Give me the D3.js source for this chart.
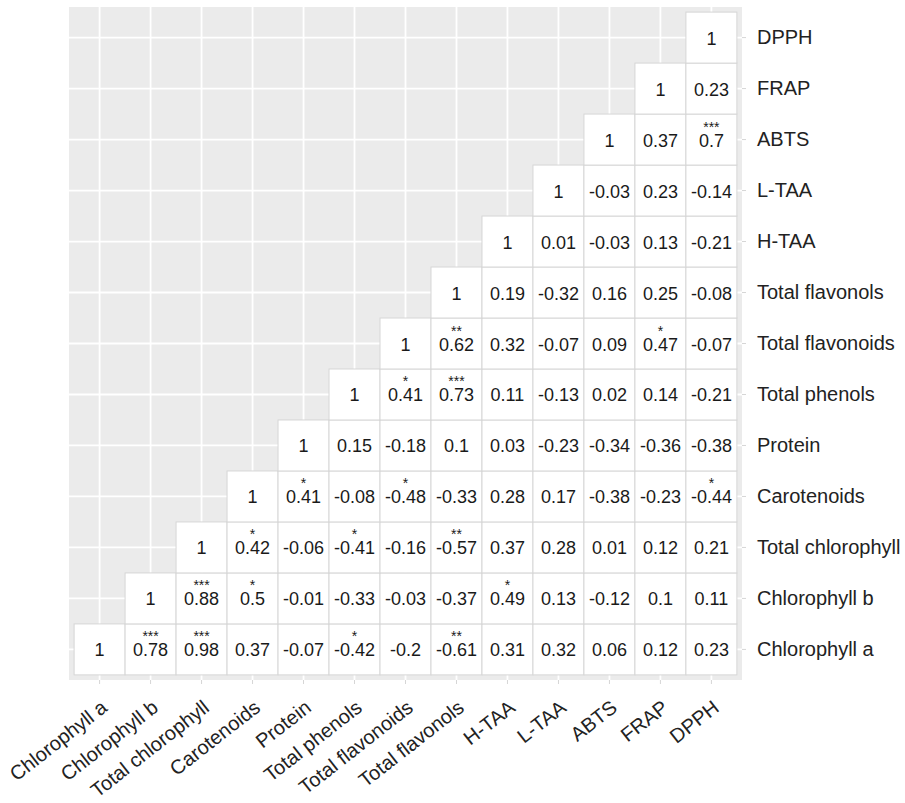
<!DOCTYPE html>
<html>
<head>
<meta charset="utf-8"/>
<title>Correlation matrix</title>
<style>
body {margin: 0; background: #fff;}
text {font-family: "Liberation Sans", Arial, sans-serif;}
</style>
<script src="https://d3js.org/d3.v7.min.js"></script>
</head>
<body>
<div id="chart"></div>
<script>
// variables, bottom-to-top on y and left-to-right on x
var variables = ["Chlorophyll a", "Chlorophyll b", "Total chlorophyll", "Carotenoids",
  "Protein", "Total phenols", "Total flavonoids", "Total flavonols",
  "H-TAA", "L-TAA", "ABTS", "FRAP", "DPPH"];

// each row starts at its own column (diagonal = 1) and goes right
var rowChlA     = [1, 0.78, 0.98, 0.37, -0.07, -0.42, -0.2, -0.61, 0.31, 0.32, 0.06, 0.12, 0.23];
var rowChlB     = [1, 0.88, 0.5, -0.01, -0.33, -0.03, -0.37, 0.49, 0.13, -0.12, 0.1, 0.11];
var rowTotChl   = [1, 0.42, -0.06, -0.41, -0.16, -0.57, 0.37, 0.28, 0.01, 0.12, 0.21];
var rowCarot    = [1, 0.41, -0.08, -0.48, -0.33, 0.28, 0.17, -0.38, -0.23, -0.44];
var rowProtein  = [1, 0.15, -0.18, 0.1, 0.03, -0.23, -0.34, -0.36, -0.38];
var rowPhenols  = [1, 0.41, 0.73, 0.11, -0.13, 0.02, 0.14, -0.21];
var rowFlavoid  = [1, 0.62, 0.32, -0.07, 0.09, 0.47, -0.07];
var rowFlavol   = [1, 0.19, -0.32, 0.16, 0.25, -0.08];
var rowHTAA     = [1, 0.01, -0.03, 0.13, -0.21];
var rowLTAA     = [1, -0.03, 0.23, -0.14];
var rowABTS     = [1, 0.37, 0.7];
var rowFRAP     = [1, 0.23];
var rowDPPH     = [1];

// significant pairs: [row variable, column variable, stars]
var sigCells = [
  ["Chlorophyll a", "Chlorophyll b", "***"],
  ["Chlorophyll a", "Total chlorophyll", "***"],
  ["Chlorophyll a", "Total phenols", "*"],
  ["Chlorophyll a", "Total flavonols", "**"],
  ["Chlorophyll b", "Total chlorophyll", "***"],
  ["Chlorophyll b", "Carotenoids", "*"],
  ["Chlorophyll b", "H-TAA", "*"],
  ["Total chlorophyll", "Carotenoids", "*"],
  ["Total chlorophyll", "Total phenols", "*"],
  ["Total chlorophyll", "Total flavonols", "**"],
  ["Carotenoids", "Protein", "*"],
  ["Carotenoids", "Total flavonoids", "*"],
  ["Carotenoids", "DPPH", "*"],
  ["Total phenols", "Total flavonoids", "*"],
  ["Total phenols", "Total flavonols", "***"],
  ["Total flavonoids", "Total flavonols", "**"],
  ["Total flavonoids", "FRAP", "*"],
  ["ABTS", "DPPH", "***"]
];

var rows = [rowChlA, rowChlB, rowTotChl, rowCarot, rowProtein, rowPhenols,
  rowFlavoid, rowFlavol, rowHTAA, rowLTAA, rowABTS, rowFRAP, rowDPPH];

// flatten into cells
var cells = [];
rows.forEach(function(r, i) {
  r.forEach(function(v, k) {
    cells.push({row: variables[i], col: variables[i + k], value: v});
  });
});
var sigMap = {};
sigCells.forEach(function(s) { sigMap[s[0] + "|" + s[1]] = s[2]; });

var width = 905, height = 803;
var panel = {left: 69, right: 742, top: 7, bottom: 680};

var svg = d3.select("#chart").append("svg")
  .attr("width", width)
  .attr("height", height);

var x = d3.scaleBand()
  .domain(variables)
  .range([panel.left, panel.right])
  .paddingInner(0)
  .paddingOuter(0.1);

var y = d3.scaleBand()
  .domain(variables)
  .range([panel.bottom, panel.top])
  .paddingInner(0)
  .paddingOuter(0.1);

var bw = x.bandwidth();

// grey panel
svg.append("rect")
  .attr("x", panel.left).attr("y", panel.top)
  .attr("width", panel.right - panel.left)
  .attr("height", panel.bottom - panel.top)
  .attr("fill", "#ebebeb");

// white grid lines at category centres
svg.append("g").selectAll("line")
  .data(variables).enter().append("line")
  .attr("x1", function(d) { return x(d) + bw / 2; })
  .attr("x2", function(d) { return x(d) + bw / 2; })
  .attr("y1", panel.top).attr("y2", panel.bottom)
  .attr("stroke", "#fff").attr("stroke-width", 1.8);

svg.append("g").selectAll("line")
  .data(variables).enter().append("line")
  .attr("y1", function(d) { return y(d) + bw / 2; })
  .attr("y2", function(d) { return y(d) + bw / 2; })
  .attr("x1", panel.left).attr("x2", panel.right)
  .attr("stroke", "#fff").attr("stroke-width", 1.8);

// tiles
var g = svg.append("g");
g.selectAll("rect.tile")
  .data(cells).enter().append("rect")
  .attr("class", "tile")
  .attr("x", function(d) { return x(d.col); })
  .attr("y", function(d) { return y(d.row); })
  .attr("width", bw).attr("height", bw)
  .attr("fill", "#fff")
  .attr("stroke", "#d6d6d6")
  .attr("stroke-width", 1);

g.selectAll("text.val")
  .data(cells).enter().append("text")
  .attr("class", "val")
  .attr("x", function(d) { return x(d.col) + bw / 2; })
  .attr("y", function(d) { return y(d.row) + bw / 2 + 7; })
  .attr("text-anchor", "middle")
  .attr("font-size", "18px")
  .attr("fill", "#1a1a1a")
  .text(function(d) { return d.value; });

// significance stars sit just above the number
g.selectAll("text.sig")
  .data(cells.filter(function(d) { return sigMap[d.row + "|" + d.col]; }))
  .enter().append("text")
  .attr("class", "sig")
  .attr("x", function(d) { return x(d.col) + bw / 2; })
  .attr("y", function(d) { return y(d.row) + bw / 2 - 8; })
  .attr("text-anchor", "middle")
  .attr("font-size", "14px")
  .attr("fill", "#1a1a1a")
  .text(function(d) { return sigMap[d.row + "|" + d.col]; });

// axes
var yAxis = svg.append("g")
  .attr("transform", "translate(" + panel.right + ",0)")
  .call(d3.axisRight(y).tickSize(4).tickPadding(11).tickSizeOuter(0));
yAxis.select(".domain").remove();
yAxis.selectAll(".tick line").attr("stroke", "#d6d6d6");
yAxis.selectAll(".tick text")
  .attr("font-size", "20px")
  .attr("fill", "#222");

var xAxis = svg.append("g")
  .attr("transform", "translate(0," + panel.bottom + ")")
  .call(d3.axisBottom(x).tickSize(4).tickSizeOuter(0));
xAxis.select(".domain").remove();
xAxis.selectAll(".tick line").attr("stroke", "#d6d6d6");
xAxis.selectAll(".tick text")
  .attr("font-size", "20px")
  .attr("fill", "#222")
  .attr("text-anchor", "end")
  .attr("x", 0).attr("y", 0).attr("dy", 0)
  .attr("transform", "translate(9,30) rotate(-38)");
</script>
</body>
</html>
